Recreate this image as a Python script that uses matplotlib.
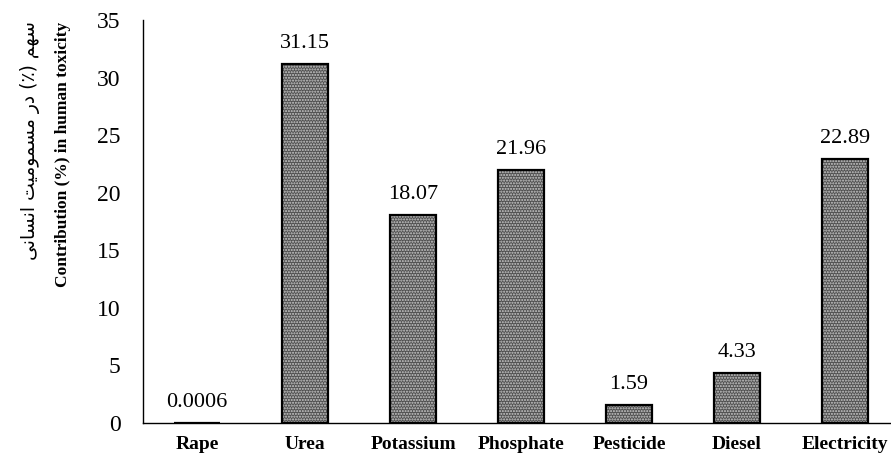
import matplotlib
matplotlib.use('Agg')
import matplotlib.pyplot as plt

# data
categories = ['Rape', 'Urea', 'Potassium', 'Phosphate', 'Pesticide', 'Diesel', 'Electricity']
values = [0.0006, 31.15, 18.07, 21.96, 1.59, 4.33, 22.89]
value_labels = ['0.0006', '31.15', '18.07', '21.96', '1.59', '4.33', '22.89']
yticks = [0, 5, 10, 15, 20, 25, 30, 35]

# Persian label, written in shaped presentation forms (visual order)
fa_label = ('\uFEF0\uFEE7\uFE8E\uFEB4\uFEE7\uFE8D '
            '\uFE96\uFEF4\uFEE3\uFEEE\uFEE4\uFEB4\uFEE3 '
            '\uFEAD\uFEA9 (\u066A) \uFEE2\uFEEC\uFEB3')
en_label = 'Contribution (%) in human toxicity'

plt.rcParams['font.family'] = ['Liberation Serif', 'DejaVu Serif']

fig = plt.figure(figsize=(8.91, 4.55), dpi=100)
ax = fig.add_axes([0.1605, 0.0703, 0.8485, 0.8857])

x = range(len(categories))
# dotted grey fill, then black outline
ax.bar(x, values, width=0.42, color='#505050', hatch='......', edgecolor='#cccccc', linewidth=0)
ax.bar(x, values, width=0.42, fill=False, edgecolor='black', linewidth=1.6)

for i, (v, lab) in enumerate(zip(values, value_labels)):
    ax.annotate(lab, (i, v), xytext=(0, 8), textcoords='offset points',
                ha='center', va='bottom', fontsize=16)

ax.set_xlim(-0.5, 6.5)
ax.set_ylim(0, 35)
ax.set_yticks(yticks)
ax.set_xticks(list(x))
ax.set_xticklabels(categories, fontweight='bold', fontsize=14)
ax.tick_params(axis='y', length=0, pad=16, labelsize=17)
ax.tick_params(axis='x', length=0, pad=9)

for s in ['top', 'right']:
    ax.spines[s].set_visible(False)
ax.spines['left'].set_linewidth(1.0)
ax.spines['bottom'].set_linewidth(1.0)

fig.text(0.034, 0.69, fa_label, rotation=90, ha='center', va='center',
         fontsize=13.5, family=['DejaVu Sans'])
fig.text(0.071, 0.66, en_label, rotation=90, ha='center', va='center',
         fontsize=12.5, fontweight='bold')

fig.savefig('out.png', dpi=100)
